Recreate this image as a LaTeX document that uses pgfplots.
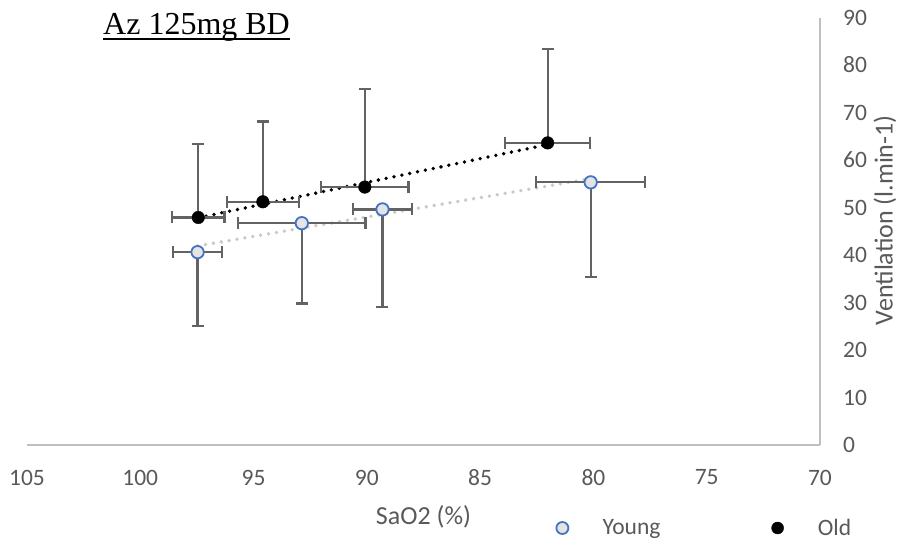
\documentclass[border=0pt]{standalone}
\usepackage{fontspec}
\setmainfont{Carlito}
\newfontfamily\titlefont{Liberation Serif}
\usepackage{pgfplots}
\usepackage{pgfplotstable}
\pgfplotsset{compat=1.18}
\definecolor{txtgray}{HTML}{595959}
\definecolor{axgray}{HTML}{BFBFBF}
\definecolor{errgray}{HTML}{636363}
\definecolor{ybl}{HTML}{4472C4}
\definecolor{yfill}{HTML}{E4E4E4}
\definecolor{ytrend}{HTML}{C9C9C9}
\newcommand\myul[1]{\setbox0\hbox{#1}\rlap{\rule[-6pt]{\wd0}{2pt}}\box0}
\pgfplotsset{dotlegend/.style={legend image code/.code={\path (-14pt,0pt) (14pt,0pt); \draw[##1, only marks, mark size=6pt] plot coordinates {(0pt,0pt)};}}}

\pgfplotstableread{
x y ex ey
97.44 47.9 1.16 15.5
94.59 51.2 1.59 16.9
90.09 54.3 1.93 20.6
82.02 63.6 1.87 19.7
}\oldtab

\pgfplotstableread{
x y ex ey
97.47 40.6 1.08 15.5
92.87 46.7 2.81 16.9
89.31 49.6 1.29 20.6
80.12 55.3 2.40 19.9
}\youngtab

\begin{document}
\begin{tikzpicture}
\path[use as bounding box] (-27pt,-97pt) rectangle (876pt,445pt);
\begin{axis}[
  at={(0pt,0pt)}, anchor=south west,
  scale only axis, width=793pt, height=427.5pt,
  xmin=70, xmax=105, ymin=0, ymax=90,
  x dir=reverse,
  axis x line*=bottom, axis y line*=right,
  axis line style={axgray, line width=1.3pt},
  xtick={70,75,...,105}, ytick={0,10,...,90},
  major tick length=0pt,
  /pgf/number format/assume math mode=true,
  tick label style={font=\fontsize{23.5}{28}\selectfont, text=txtgray},
  xticklabel style={anchor=north, inner sep=0pt, yshift=-24.6pt},
  yticklabel style={anchor=west, inner sep=0pt, xshift=23pt},
  xlabel={SaO2 (\%)},
  xlabel style={at={(axis description cs:0.5,0)}, anchor=center, yshift=-72pt, font=\fontsize{26}{30}\selectfont, text=txtgray},
  ylabel={Ventilation (l.min-1)},
  ylabel style={at={(axis description cs:1,0.5)}, anchor=center, xshift=11pt, yshift=-65pt, font=\fontsize{26}{30}\selectfont, text=txtgray},
  title={\myul{Az 125mg BD}},
  title style={at={(axis description cs:0,1)}, anchor=base west, xshift=76pt, yshift=-22.8pt, inner sep=0pt, font=\titlefont\fontsize{32}{38}\selectfont, text=black},
  legend columns=2,
  legend cell align=left,
  legend style={at={(axis description cs:0,0)}, anchor=west, xshift=521pt, yshift=-83pt,
    draw=none, fill=none, inner sep=0pt, font=\fontsize{23.5}{28}\selectfont, text=txtgray,
    /tikz/every odd column/.append style={column sep=24pt},
    /tikz/every even column/.append style={column sep=101pt}},
]
% trendlines
\addplot[forget plot, no marks, black, line width=3.8pt, line cap=round, dash pattern=on 0pt off 8pt]
  table[x=x, y={create col/linear regression={y=y}}] {\oldtab};
\addplot[forget plot, no marks, ytrend, line width=3.8pt, line cap=round, dash pattern=on 0pt off 8pt]
  table[x=x, y={create col/linear regression={y=y}}] {\youngtab};
% markers with error bars
\addplot[only marks, mark=*, mark size=6.2pt, mark options={draw=ybl, fill=yfill, line width=1.8pt}, dotlegend,
  error bars/.cd, x dir=both, x explicit, y dir=minus, y explicit,
  error mark=|,
  error bar style={errgray, line width=2.2pt},
  error mark options={errgray, line width=2.2pt, mark size=6pt}]
  table[x=x, y=y, x error=ex, y error=ey] {\youngtab};
\addlegendentry{Young}
\addplot[only marks, mark=*, mark size=6.3pt, mark options={draw=black, fill=black}, dotlegend,
  error bars/.cd, x dir=both, x explicit, y dir=plus, y explicit,
  error mark=|,
  error bar style={errgray, line width=2.2pt},
  error mark options={errgray, line width=2.2pt, mark size=6pt}]
  table[x=x, y=y, x error=ex, y error=ey] {\oldtab};
\addlegendentry{Old}
\end{axis}
\end{tikzpicture}
\end{document}
